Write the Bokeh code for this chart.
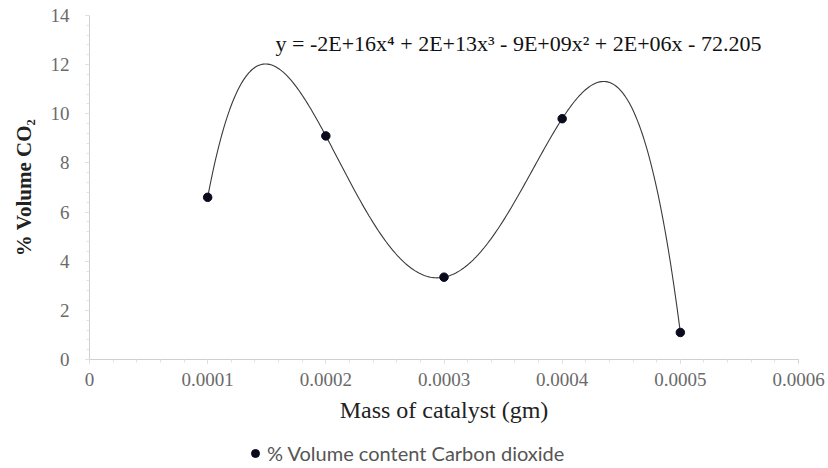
import numpy as np
from bokeh.plotting import figure
from bokeh.layouts import column
from bokeh.models import ColumnDataSource, Label, Legend, LegendItem, Range1d, FixedTicker
from bokeh.embed import file_html
from bokeh.resources import INLINE

# Data
mass = [0.0001, 0.0002, 0.0003, 0.0004, 0.0005]
co2 = [6.6, 9.1, 3.35, 9.8, 1.1]
x_ticks = [0, 0.0001, 0.0002, 0.0003, 0.0004, 0.0005, 0.0006]
x_tick_labels = ["0", "0.0001", "0.0002", "0.0003", "0.0004", "0.0005", "0.0006"]
y_ticks = [0, 2, 4, 6, 8, 10, 12, 14]
equation = "y = -2E+16x\u2074 + 2E+13x\u00b3 - 9E+09x\u00b2 + 2E+06x - 72.205"
series_name = "% Volume content Carbon dioxide"

# 4th-order polynomial trendline fitted to the data (as in the spreadsheet)
xs = np.array(mass) * 1e4
coef = np.polyfit(xs, np.array(co2), 4)
fit_x = np.linspace(xs.min(), xs.max(), 300)
fit_y = np.polyval(coef, fit_x)
fit_src = ColumnDataSource(dict(x=fit_x / 1e4, y=fit_y))
pts_src = ColumnDataSource(dict(x=mass, y=co2))

SERIF = "Liberation Serif"
MARK = "#0b0b1e"
p = figure(width=826, height=432, output_backend="svg", toolbar_location=None,
           x_range=Range1d(0, 0.0006), y_range=Range1d(0, 14),
           min_border_left=89, min_border_right=28, min_border_top=15, min_border_bottom=73)
p.outline_line_color = None
p.xgrid.grid_line_color = None
p.ygrid.grid_line_color = None

p.line('x', 'y', source=fit_src, line_color="#3a3a3a", line_width=1.1)
p.scatter('x', 'y', source=pts_src, size=8.5, fill_color=MARK, line_color=MARK)

# axes
for ax in (p.xaxis[0], p.yaxis[0]):
    ax.axis_line_color = "#d0d0d0"
    ax.major_tick_line_color = "#d0d0d0"
    ax.minor_tick_line_color = "#e2e2e2"
    ax.major_tick_out = 4
    ax.major_tick_in = 0
    ax.minor_tick_out = 3
    ax.minor_tick_in = 0
    ax.major_label_text_font = SERIF
    ax.major_label_text_color = "#6a6a6a"
    ax.major_label_text_font_size = "19px"
    ax.axis_label_text_font = SERIF
    ax.axis_label_text_color = "#222222"

p.xaxis.ticker = FixedTicker(ticks=x_ticks, minor_ticks=[i * 0.00002 for i in range(31)])
p.xaxis.major_label_overrides = {t: l for t, l in zip(x_ticks, x_tick_labels)}
p.xaxis.major_label_standoff = 9
p.xaxis.axis_label = "Mass of catalyst (gm)"
p.xaxis.axis_label_text_font_size = "24px"
p.xaxis.axis_label_text_font_style = "normal"
p.xaxis.axis_label_standoff = 8

p.yaxis.ticker = FixedTicker(ticks=y_ticks, minor_ticks=[i * 0.4 for i in range(36)])
p.yaxis.major_label_standoff = 16
p.yaxis.axis_label = "% Volume CO\u2082"
p.yaxis.axis_label_text_font_size = "21px"
p.yaxis.axis_label_text_font_style = "bold"
p.yaxis.axis_label_standoff = 12

eq = Label(x=186, y=316, x_units='screen', y_units='screen', text=equation,
           text_font=SERIF, text_font_size="22px", text_color="#111111",
           text_baseline="middle")
p.add_layout(eq)

# legend strip below the chart (its proxy renderer's points lie outside this strip's ranges)
p2 = figure(width=826, height=36, output_backend="svg", toolbar_location=None,
            x_range=Range1d(1, 2), y_range=Range1d(100, 101),
            x_axis_type=None, y_axis_type=None, min_border=0)
p2.outline_line_color = None
p2.xgrid.grid_line_color = None
p2.ygrid.grid_line_color = None
r2 = p2.scatter('x', 'y', source=pts_src, size=8.5, fill_color=MARK, line_color=MARK)
legend = Legend(items=[LegendItem(label=series_name, renderers=[r2])],
                location=(156, 3), orientation="horizontal",
                label_text_font="Lato", label_text_font_size="20px",
                label_text_color="#555555", border_line_color=None,
                background_fill_alpha=0, glyph_width=20, glyph_height=20,
                label_height=22, label_standoff=2, padding=2, margin=0)
p2.add_layout(legend)

layout = column(p, p2, spacing=0)
open("out.html", "w").write(file_html(layout, INLINE))
